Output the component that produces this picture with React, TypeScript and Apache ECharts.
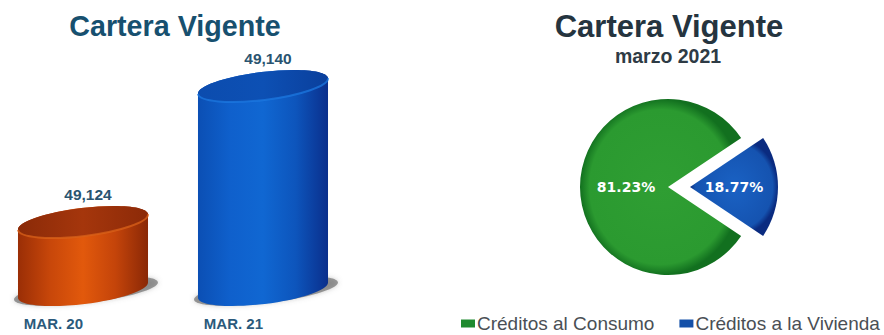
import React, { useEffect, useRef } from "react";
import * as echarts from "echarts";

const periods = ["MAR. 20", "MAR. 21"];
const portfolio = [49124, 49140];
const axisMin = 49116;
const axisMax = 49148;

const shareNames = ["Créditos al Consumo", "Créditos a la Vivienda"];
const shareValues = [81.23, 18.77];

const palettes = [
  {
    side: ["#9a2e06", "#c8470a", "#e2590c", "#c4440a", "#8a2806"],
    cap: ["#8a2a08", "#a5360c", "#8c2a08"],
    rim: "#d9611a",
  },
  {
    side: ["#0b4fb4", "#0f60cc", "#1067d2", "#0d55bc", "#0a2f8c"],
    cap: ["#0c4cae", "#0d50b4", "#0a3f9c"],
    rim: "#1c78e0",
  },
];

const stops = (colors: string[]) =>
  colors.map((color, i) => ({ offset: i / (colors.length - 1), color }));

const across = (colors: string[]) => new echarts.graphic.LinearGradient(0, 0, 1, 0, stops(colors));

const TILT = (-7 * Math.PI) / 180;
const RX = 65.5;
const RY = 14;
const KAPPA = 0.5523;

// Point on a tilted ellipse, given in its own (unrotated) axes.
function onEllipse(cx: number, cy: number, x: number, y: number) {
  const c = Math.cos(TILT);
  const s = Math.sin(TILT);
  return `${cx + x * c - y * s} ${cy + x * s + y * c}`;
}

// Half of a tilted ellipse as two cubic segments; dir 1 runs through the front, -1 through the back.
function halfArc(cx: number, cy: number, rx: number, ry: number, dir: number, fromLeft: boolean) {
  const sx = fromLeft ? -1 : 1;
  const p = (x: number, y: number) => onEllipse(cx, cy, x, y);
  return (
    `C ${p(sx * rx, dir * KAPPA * ry)} ${p(sx * KAPPA * rx, dir * ry)} ${p(0, dir * ry)} ` +
    `C ${p(-sx * KAPPA * rx, dir * ry)} ${p(-sx * rx, dir * KAPPA * ry)} ${p(-sx * rx, 0)} `
  );
}

function ellipsePath(cx: number, cy: number, rx = RX, ry = RY) {
  return `M ${onEllipse(cx, cy, -rx, 0)} ${halfArc(cx, cy, rx, ry, -1, true)}${halfArc(cx, cy, rx, ry, 1, false)}Z`;
}

function bodyPath(cx: number, top: number, base: number) {
  return (
    `M ${onEllipse(cx, top, -RX, 0)} L ${onEllipse(cx, base, -RX, 0)} ` +
    halfArc(cx, base, RX, RY, 1, true) +
    `L ${onEllipse(cx, top, RX, 0)} ` +
    halfArc(cx, top, RX, RY, -1, false) +
    "Z"
  );
}

function rimPath(cx: number, top: number) {
  return `M ${onEllipse(cx, top, -RX, 0)} ${halfArc(cx, top, RX, RY, 1, true)}`;
}

function renderCylinder(params: any, api: any) {
  const i = params.dataIndex;
  const value = api.value(1);
  const [cx, top] = api.coord([api.value(0), value]);
  const [, base] = api.coord([api.value(0), axisMin]);
  const palette = palettes[i];
  return {
    type: "group",
    children: [
      {
        type: "path",
        shape: { pathData: ellipsePath(cx + 3, base + 1, RX + 7, RY - 2) },
        style: { fill: "rgba(95,95,95,0.6)", shadowBlur: 5, shadowColor: "rgba(110,110,110,0.6)" },
      },
      {
        type: "path",
        shape: { pathData: bodyPath(cx, top, base) },
        style: { fill: across(palette.side) },
      },
      {
        type: "path",
        shape: { pathData: ellipsePath(cx, top) },
        style: { fill: across(palette.cap) },
      },
      {
        type: "path",
        shape: { pathData: rimPath(cx, top) },
        style: { fill: "none", stroke: palette.rim, lineWidth: 2, opacity: 0.75 },
      },
      {
        type: "text",
        x: cx + 5,
        y: top - 28,
        style: {
          text: value.toLocaleString("en-US"),
          fontFamily: "Liberation Sans",
          fontSize: 15.5,
          fontWeight: "bold",
          fill: "#2a5470",
          align: "center",
          verticalAlign: "middle",
        },
      },
    ],
  };
}

const pieFill = (inner: string, mid: string, edge: string) =>
  new echarts.graphic.RadialGradient(0.5, 0.5, 0.5, [
    { offset: 0, color: inner },
    { offset: 0.88, color: mid },
    { offset: 1, color: edge },
  ]);

export default function App() {
  const ref = useRef<HTMLDivElement>(null);

  useEffect(() => {
    const chart = echarts.init(ref.current!, null, { renderer: "svg" });
    chart.setOption({
      animation: false,
      backgroundColor: "#ffffff",
      title: [
        {
          text: "Cartera Vigente",
          left: 170,
          top: 6,
          textAlign: "center",
          textStyle: { fontFamily: "Liberation Sans", fontSize: 28.7, fontWeight: "bold", color: "#17506f" },
        },
        {
          text: "Cartera Vigente",
          left: 664,
          top: 6,
          textAlign: "center",
          textStyle: { fontFamily: "Liberation Sans", fontSize: 31, fontWeight: "bold", color: "#25343f" },
        },
        {
          text: "marzo 2021",
          left: 663,
          top: 41,
          textAlign: "center",
          textStyle: { fontFamily: "Liberation Sans", fontSize: 19.5, fontWeight: "bold", color: "#2e3b45" },
        },
      ],
      grid: { left: 83, width: 180, top: 18, height: 272, containLabel: false },
      xAxis: {
        type: "category",
        data: periods,
        boundaryGap: false,
        axisLine: { show: false },
        axisTick: { show: false },
        axisLabel: {
          interval: 0,
          align: "right",
          margin: 26,
          fontFamily: "Liberation Sans",
          fontSize: 15,
          fontWeight: "bold",
          color: "#2b5a7c",
        },
      },
      yAxis: { type: "value", min: axisMin, max: axisMax, show: false, splitLine: { show: false } },
      legend: {
        left: 461,
        top: 314,
        width: 423,
        padding: 0,
        itemWidth: 14,
        itemHeight: 8,
        itemGap: 25,
        selectedMode: false,
        icon: "rect",
        textStyle: { fontFamily: "Liberation Sans", fontSize: 19, color: "#4a4f55", padding: [0, 0, 0, -3] },
        data: [
          { name: shareNames[0], itemStyle: { color: "#1f8a2e" } },
          { name: shareNames[1], itemStyle: { color: "#1450a8" } },
        ],
      },
      series: [
        {
          type: "custom",
          renderItem: renderCylinder,
          data: periods.map((_, i) => [i, portfolio[i]]),
          encode: { x: 0, y: 1 },
          clip: false,
        },
        {
          type: "pie",
          center: [668, 187],
          radius: [0, 88],
          startAngle: -33.8,
          clockwise: true,
          selectedMode: "single",
          selectedOffset: 22,
          silent: true,
          label: {
            show: true,
            position: "inside",
            formatter: "{c}%",
            fontFamily: "DejaVu Sans",
            fontSize: 14,
            fontWeight: "bold",
            color: "#ffffff",
          },
          labelLine: { show: false },
          itemStyle: { borderColor: "#ffffff", borderWidth: 0 },
          data: [
            {
              name: shareNames[0],
              value: shareValues[0],
              label: { padding: [0, 0, 0, 10] },
              itemStyle: { color: pieFill("#2f9e33", "#2b9a30", "#12701f") },
            },
            {
              name: shareNames[1],
              value: shareValues[1],
              selected: true,
              label: { padding: [0, 6, 0, 0] },
              itemStyle: { color: pieFill("#1a62c4", "#1553b0", "#0a2b80") },
            },
          ],
        },
      ],
    });
    return () => chart.dispose();
  }, []);

  return (
    <div
      ref={ref}
      style={{ position: "absolute", left: 0, top: 0, width: 884, height: 335 }}
    />
  );
}
